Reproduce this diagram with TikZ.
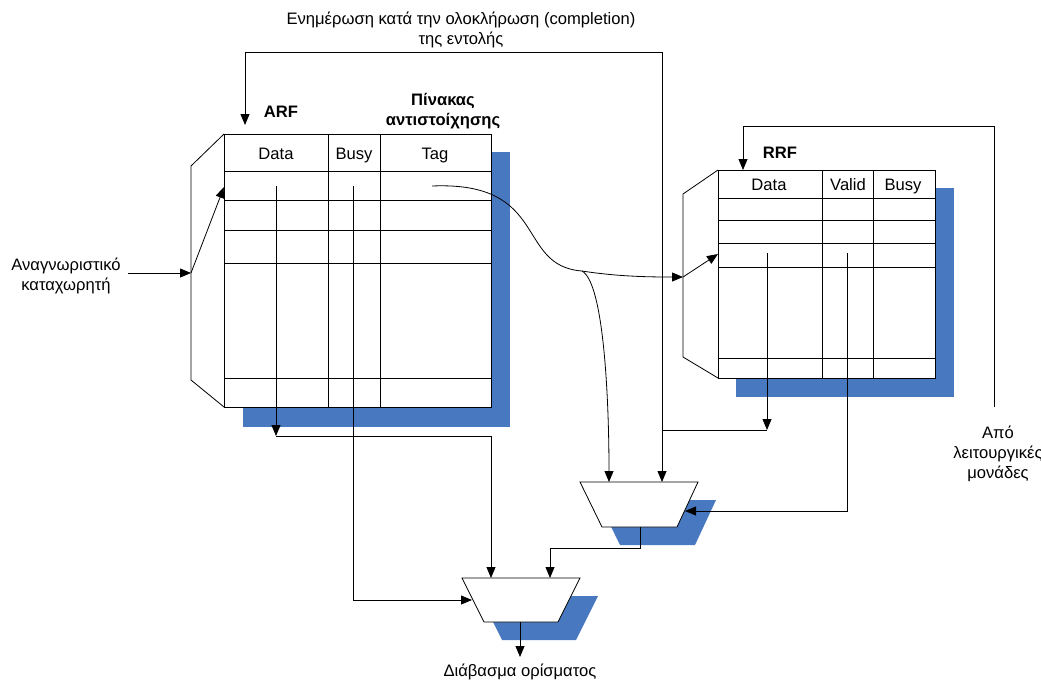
\documentclass[tikz,border=0pt]{standalone}
\usepackage{fontspec}
\setmainfont{Liberation Sans}
\usetikzlibrary{arrows.meta,calc}
\definecolor{shadowblue}{HTML}{4878C0}
\begin{document}
\begin{tikzpicture}[x=1pt,y=-1pt,
  every node/.style={font=\fontsize{16.6}{20}\selectfont, inner sep=0pt, align=center},
  lbl/.style={font=\fontsize{16.6}{20}\selectfont\bfseries},
  head/.style={anchor=base},
  grid/.style={draw=black, line width=0.8pt},
  wire/.style={draw=black, line width=0.8pt},
  arr/.style={wire, -{Triangle[length=11pt,width=9pt]}},
  shade/.style={fill=shadowblue, draw=none}]
\useasboundingbox (0,0) rectangle (1041,681);

% ---------- ARF with mapping table ----------
\fill[shade] (243,152) rectangle (510,427);
\draw[grid, fill=white] (224,134) rectangle (491,407);
\foreach \yy in {171,200,230,263,378} \draw[grid] (224,\yy) -- (491,\yy);
\foreach \xx in {328,380} \draw[grid] (\xx,134) -- (\xx,407);
\draw[grid] (224,134) -- (191,166) -- (191,380) -- (224,407);
\node[head] (hdata) at (276,159) {Data};
\node[head] (hbusy) at (354,159) {Busy};
\node[head] (htag)  at (435,159) {Tag};
\node[lbl] (arf) at (281,112) {ARF};
\node[lbl] (map) at (443,111) {Πίνακας\\αντιστοίχησης};

% ---------- RRF ----------
\fill[shade] (736,188) rectangle (954,397);
\draw[grid, fill=white] (718,170) rectangle (935,378);
\foreach \yy in {198,220,243,267,358} \draw[grid] (718,\yy) -- (935,\yy);
\foreach \xx in {822,873} \draw[grid] (\xx,170) -- (\xx,378);
\draw[grid] (718,170) -- (683,194) -- (683,357) -- (718,378);
\node[head] (rdata)  at (769,190) {Data};
\node[head] (rvalid) at (848,190) {Valid};
\node[head] (rbusy)  at (903,190) {Busy};
\node[lbl] (rrf) at (780,153) {RRF};

% ---------- multiplexers ----------
\fill[shade] (598,500) -- (716,500) -- (695,545) -- (620,545) -- cycle;
\draw[grid, fill=white] (580,482) -- (698,482) -- (677,527) -- (602,527) -- cycle;
\fill[shade] (480,596) -- (598,596) -- (576,640) -- (502,640) -- cycle;
\draw[grid, fill=white] (462,578) -- (580,578) -- (558,622) -- (484,622) -- cycle;

% ---------- text labels ----------
\node (upd) at (461,30) {Ενημέρωση κατά την ολοκλήρωση (completion)\\της εντολής};
\node (regid) at (66,276) {Αναγνωριστικό\\καταχωρητή};
\node (fu) at (998,454) {Από\\λειτουργικές\\μονάδες};
\node (rd) at (520,672) {Διάβασμα ορίσματος};

% ---------- connection points ----------
\coordinate (inA)   at (128,273);
\coordinate (decA)  at (191,273);
\coordinate (rowA)  at (224,187);
\coordinate (datA)  at (276,186);
\coordinate (datAo) at (276,436);
\coordinate (busA)  at (353,186);
\coordinate (tagA)  at (432,186);
\coordinate (split) at (582,271);
\coordinate (decR)  at (683,277);
\coordinate (rowR)  at (718,254);
\coordinate (datR)  at (767,253);
\coordinate (datRo) at (767,430);
\coordinate (valR)  at (847,253);
\coordinate (m1a)   at (609,482);
\coordinate (m1b)   at (662,482);
\coordinate (m1r)   at (685,511);
\coordinate (m1o)   at (640,527);
\coordinate (m2a)   at (491,578);
\coordinate (m2b)   at (550,578);
\coordinate (m2l)   at (472,600);
\coordinate (m2o)   at (520,622);
\coordinate (out)   at (520,657);
\coordinate (fuTop) at (994,407);

% ---------- connectors ----------
\draw[arr] (inA) -- (decA);
\draw[arr] (decA) -- (rowA);
\draw[arr] (decR) -- (rowR);
\draw[arr] (datA) -- (datAo);
\draw[arr] (datAo) -| (m2a);
\draw[arr] (busA) |- (m2l);
\draw[arr] (tagA) .. controls (550,181) and (515,266) .. (split)
  .. controls (620,277) and (655,277) .. (decR);
\draw[arr] (split) .. controls (604,283) and (609,400) .. (m1a);
\draw[arr] (m1b |- 0,52) -- (m1b);
\draw[arr] (m1b |- 0,52) -| (245,125);
\draw[arr] (datR) -- (datRo);
\draw[wire] (datRo) -- (m1b |- datRo);
\draw[arr] (valR) |- (m1r);
\draw[arr] (fuTop) |- (743,126) -- (743,170);
\draw[arr] (m1o) |- (550,548) -- (m2b);
\draw[arr] (m2o) -- (out);
\end{tikzpicture}
\end{document}
